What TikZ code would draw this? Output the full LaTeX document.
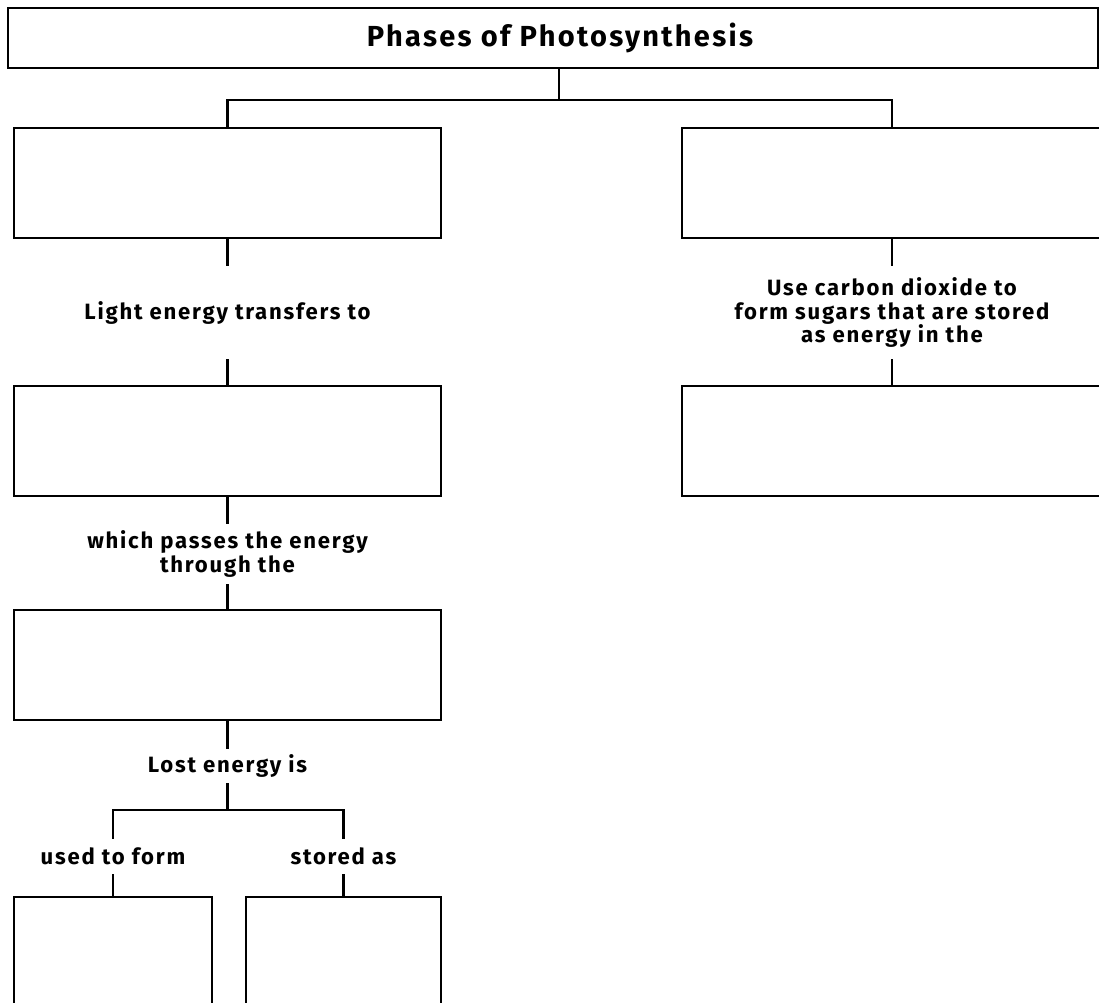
\documentclass[tikz,border=0pt]{standalone}
\usepackage{fontspec}
\setmainfont{Fira Sans}
\newfontfamily\spacedfont[LetterSpace=8]{Fira Sans}
\usepackage{tikz}

\begin{document}
\begin{tikzpicture}[x=0.02cm,y=-0.02cm,line width=1.25pt,
  box/.style={draw,inner sep=0pt,minimum width=8.54cm,minimum height=2.2cm},
  lbl/.style={inner sep=0pt,align=center,font=\spacedfont\bfseries\fontsize{12.6}{13.6}\selectfont}]
  \useasboundingbox (0,0) rectangle (1099,1003);
  \clip (0,0) rectangle (1099,1003);
  % title and the two phases
  \node[draw,inner sep=0pt,minimum width=21.8cm,minimum height=1.2cm,font=\spacedfont\bfseries\fontsize{16.5}{18}\selectfont] (title) at (553,38) {\hspace*{8pt}Phases of Photosynthesis};
  \node[box] (L1) at (227.5,183) {}; \node[box,minimum width=8.4cm] (R1) at (892,183) {};
  \coordinate (top) at (559,100);
  \draw (title.south -| top) -- (top);
  \draw (L1.north) |- (top) -| (R1.north);
  % left column
  \node[lbl,minimum height=1.82cm] (light) at (227.5,312.5) {Light energy transfers to};
  \node[box] (L2) at (227.5,441) {};
  \node[lbl,minimum height=1.16cm] (which) at (227.5,554) {which passes the energy\\through the};
  \node[box] (L3) at (227.5,665) {};
  \node[lbl,minimum height=0.64cm] (lost) at (227.5,766) {Lost energy is};
  \draw (L1) -- (light) -- (L2) -- (which) -- (L3) -- (lost);
  \coordinate (fork) at (227.5,810);
  \node[lbl,minimum height=0.66cm] (used) at (113,856.5) {used to form};
  \node[lbl,minimum height=0.66cm] (stored) at (343.5,856.5) {stored as};
  \node[box,minimum width=3.96cm,minimum height=2.52cm] (B1) at (113,960) {};
  \node[box,minimum width=3.9cm,minimum height=2.52cm] (B2) at (343.5,960) {};
  \draw (lost) -- (fork); \draw (used.north) |- (fork) -| (stored.north);
  \draw (used) -- (B1); \draw (stored) -- (B2);
  % right column
  \node[lbl,minimum height=1.82cm] (carbon) at (892,312.5) {Use carbon dioxide to\\form sugars that are stored\\as energy in the};
  \node[box,minimum width=8.4cm] (R2) at (892,441) {};
  \draw (R1) -- (carbon) -- (R2);
\end{tikzpicture}
\end{document}
